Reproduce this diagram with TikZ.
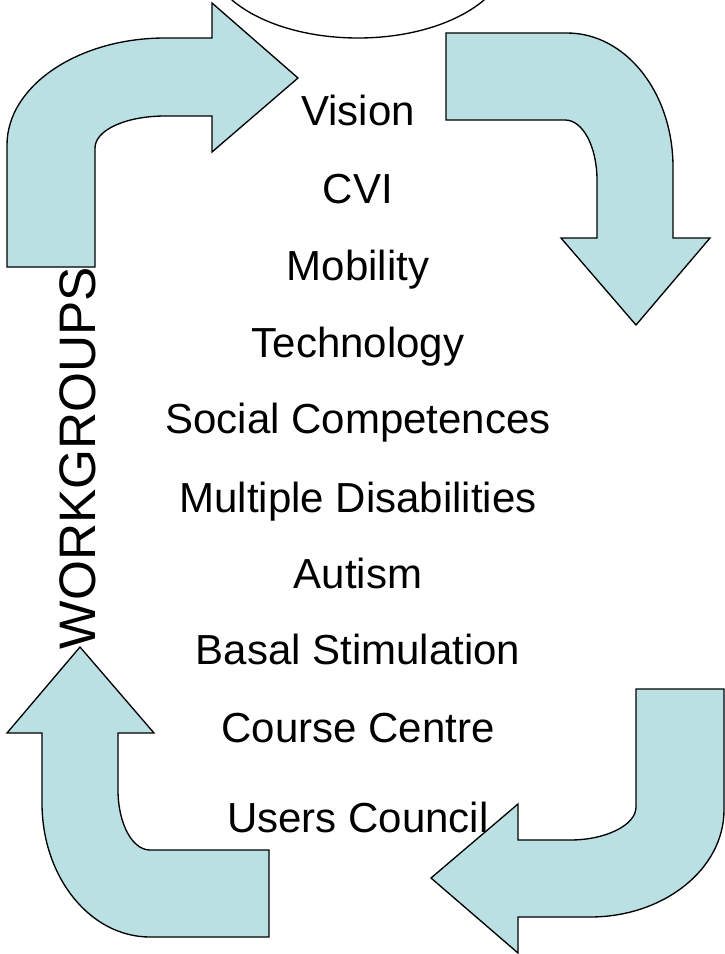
\documentclass[tikz,border=0pt]{standalone}
\usepackage{fontspec}
\setmainfont{Liberation Sans}
\usetikzlibrary{positioning}
\definecolor{arrowblue}{RGB}{186,224,227}

\begin{document}
\begin{tikzpicture}[
        x=0.75pt, y=-0.75pt,
        item/.style={anchor=base, font=\fontsize{31.5}{36}\selectfont},
        bigarrow/.style={draw, fill=arrowblue, line width=1pt, line join=miter}
    ]
        \useasboundingbox (0,0) rectangle (725,954);

        % Circle at the top
        \begin{scope}
            \clip (0,0) rectangle (725,954);
            \draw[line width=1pt] (358,-45) ellipse [x radius=150, y radius=83];
        \end{scope}

        % Arrows
        \draw[bigarrow] (7,267) -- (7,145) .. controls (7,86) and (78,38) .. (165,38)
            -- (212,38) -- (212,3) -- (298,78) -- (212,152) -- (212,116) -- (165,116)
            .. controls (126,116) and (95,130) .. (95,148) -- (95,267) -- cycle;
        \draw[bigarrow] (446,33) -- (567,33) .. controls (626,33) and (673,93) .. (673,167)
            -- (673,238) -- (710,238) -- (636,325) -- (561,238) -- (597,238) -- (597,180)
            .. controls (597,147) and (583,120) .. (565,120) -- (446,120) -- cycle;
        \draw[bigarrow] (636,689) -- (724,689) -- (724,810) .. controls (724,869) and (664,917) .. (590,917)
            -- (518,917) -- (518,953) -- (431,878) -- (518,804) -- (518,840) -- (570,840)
            .. controls (606,840) and (636,825) .. (636,807) -- cycle;
        \draw[bigarrow] (269,937) -- (150,937) .. controls (90,937) and (42,877) .. (42,803)
            -- (42,733) -- (7,733) -- (80,647) -- (154,733) -- (118,733) -- (118,790)
            .. controls (118,823) and (132,850) .. (150,850) -- (269,850) -- cycle;

        % Nodes
        \node[item] (vision) at (358,125) {Vision};
        \node[item] (cvi) at (358,203) {CVI};
        \node[item] (mobility) at (358,280) {Mobility};
        \node[item] (technology) at (358,357) {Technology};
        \node[item] (social) at (358,433) {Social Competences};
        \node[item] (multiple) at (358,512) {Multiple Disabilities};
        \node[item] (autism) at (358,588) {Autism};
        \node[item] (basal) at (358,664) {Basal Stimulation};
        \node[item] (course) at (358,742) {Course Centre};
        \node[item] (users) at (358,832) {Users Council};
        \node[rotate=90, anchor=base, font=\fontsize{38.5}{44}\selectfont] (workgroups) at (95,458) {WORKGROUPS};
    \end{tikzpicture}
\end{document}
